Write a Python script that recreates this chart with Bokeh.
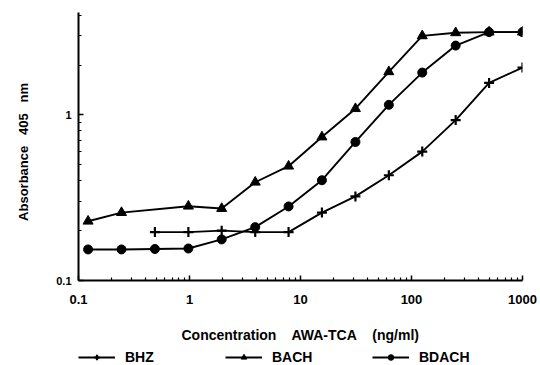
from bokeh.plotting import figure
from bokeh.layouts import column
from bokeh.models import Range1d, FixedTicker, PrintfTickFormatter, Legend, LegendItem
from bokeh.embed import file_html
from bokeh.resources import INLINE

# --- data ---
conc_bhz = [0.488, 0.977, 1.95, 3.91, 7.81, 15.6, 31.25, 62.5, 125, 250, 500, 1000]
abs_bhz = [0.196, 0.196, 0.200, 0.196, 0.196, 0.257, 0.322, 0.432, 0.60, 0.93, 1.56, 1.93]

conc_bach = [0.122, 0.244, 0.977, 1.95, 3.91, 7.81, 15.6, 31.25, 62.5, 125, 250, 500, 1000]
abs_bach = [0.228, 0.257, 0.281, 0.272, 0.392, 0.49, 0.735, 1.09, 1.82, 3.0, 3.13, 3.16, 3.16]

conc_bdach = [0.122, 0.244, 0.488, 0.977, 1.95, 3.91, 7.81, 15.6, 31.25, 62.5, 125, 250, 500, 1000]
abs_bdach = [0.154, 0.154, 0.155, 0.156, 0.177, 0.21, 0.28, 0.403, 0.686, 1.15, 1.8, 2.62, 3.16, 3.16]

series_names = ["BHZ", "BACH", "BDACH"]

x_major = [0.1, 1, 10, 100, 1000]
x_minor = [0.2, 0.3, 0.4, 0.5, 0.6, 0.7, 0.8, 0.9,
           2, 3, 4, 5, 6, 7, 8, 9,
           20, 30, 40, 50, 60, 70, 80, 90,
           200, 300, 400, 500, 600, 700, 800, 900]
y_major = [0.1, 1]
y_minor = [0.2, 0.3, 0.4, 0.5, 0.6, 0.7, 0.8, 0.9, 2, 3, 4]

FONT = "Liberation Sans"
SPX = "\u00a0\u00a0\u00a0 "
SPY = "\u00a0\u00a0 "
NB = "\u00a0"

p = figure(width=540, height=345, x_axis_type="log", y_axis_type="log",
           x_range=Range1d(0.1, 1000), y_range=Range1d(0.1, 4.15),
           output_backend="svg", toolbar_location=None,
           min_border_left=78, min_border_right=18, min_border_top=12,
           min_border_bottom=65)
p.outline_line_color = None
p.xgrid.visible = False
p.ygrid.visible = False

p.xaxis.ticker = FixedTicker(ticks=x_major, minor_ticks=x_minor)
p.yaxis.ticker = FixedTicker(ticks=y_major, minor_ticks=y_minor)
p.xaxis.formatter = PrintfTickFormatter(format="%g")
p.yaxis.formatter = PrintfTickFormatter(format="%g")

for ax in (p.xaxis[0], p.yaxis[0]):
    ax.axis_line_color = "black"
    ax.axis_line_width = 2
    ax.major_tick_in = 5
    ax.major_tick_out = 0
    ax.minor_tick_in = 3
    ax.minor_tick_out = 0
    ax.major_tick_line_width = 1.5
    ax.minor_tick_line_width = 1.2
    ax.major_label_text_font = FONT
    ax.major_label_text_font_style = "bold"
    ax.major_label_text_color = "black"
    ax.axis_label_text_font = FONT
    ax.axis_label_text_font_style = "bold"
    ax.axis_label_text_color = "black"

p.xaxis.major_label_text_font_size = "13px"
p.yaxis.major_label_text_font_size = "11px"
p.xaxis.axis_label_text_font_size = "14px"
p.yaxis.axis_label_text_font_size = "13px"
p.xaxis.major_label_standoff = 14
p.yaxis.major_label_standoff = 7
p.xaxis.axis_label = "Concentration" + SPX + "AWA-TCA" + SPX + "(ng/ml)"
p.yaxis.axis_label = "Absorbance" + SPY + "405" + SPY + "nm" + NB * 3
p.xaxis.axis_label_standoff = 20
p.yaxis.axis_label_standoff = 22

lw = 1.9


def draw(fig):
    r1 = fig.line(conc_bhz, abs_bhz, line_color="black", line_width=lw)
    m1 = fig.scatter(conc_bhz, abs_bhz, marker="cross", size=10, line_width=2.2,
                     line_color="black")
    r2 = fig.line(conc_bach, abs_bach, line_color="black", line_width=lw)
    m2 = fig.scatter(conc_bach, abs_bach, marker="triangle", size=10,
                     fill_color="black", line_color="black")
    r3 = fig.line(conc_bdach, abs_bdach, line_color="black", line_width=lw)
    m3 = fig.scatter(conc_bdach, abs_bdach, marker="circle", size=9,
                     fill_color="black", line_color="black")
    return [[r1, m1], [r2, m2], [r3, m3]]


draw(p)

# legend strip below the plot (same series, drawn outside its view)
lg = figure(width=540, height=20, x_range=Range1d(2000, 3000),
            y_range=Range1d(10, 20), output_backend="svg",
            toolbar_location=None, x_axis_location=None, y_axis_location=None,
            min_border_left=78, min_border_right=18, min_border_top=0,
            min_border_bottom=0)
lg.outline_line_color = None
lg.grid.visible = False
rends = draw(lg)

legend = Legend(items=[LegendItem(label=n, renderers=r)
                       for n, r in zip(series_names, rends)],
                orientation="horizontal", location=(0, 0))
legend.label_text_font = FONT
legend.label_text_font_style = "bold"
legend.label_text_font_size = "14px"
legend.label_text_color = "black"
legend.label_width = 50
legend.label_height = 12
legend.glyph_width = 37
legend.glyph_height = 14
legend.label_standoff = 10
legend.spacing = 50
legend.padding = 1
legend.margin = 0
legend.border_line_color = None
legend.background_fill_alpha = 0
lg.add_layout(legend, "center")

layout = column(p, lg, spacing=0)
open("out.html", "w").write(file_html(layout, INLINE))
